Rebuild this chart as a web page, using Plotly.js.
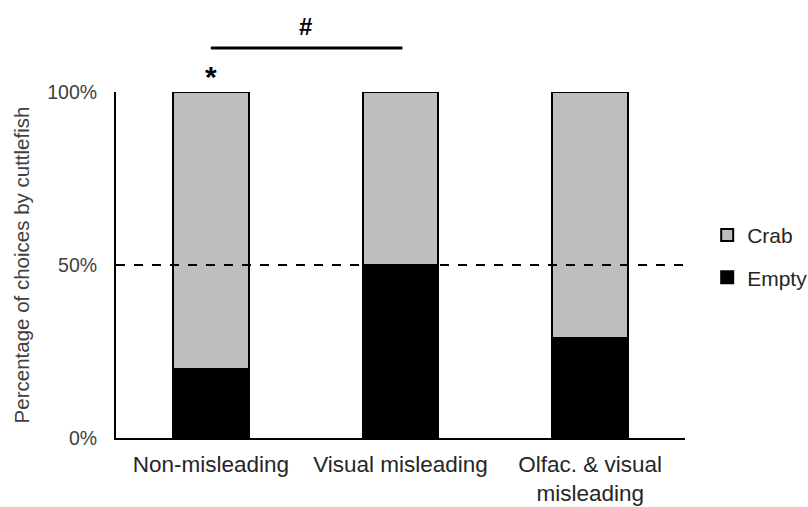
<!DOCTYPE html>
<html>
<head>
<meta charset="utf-8">
<script src="https://cdn.plot.ly/plotly-3.0.1.min.js"></script>
<style>html,body{margin:0;padding:0;background:#fff;}#chart{width:808px;height:507px;}</style>
</head>
<body>
<div id="chart"></div>
<script>
const categories = ["Non-misleading", "Visual misleading", "Olfac. & visual<br>misleading"];
const emptyPct = [20, 50, 29];
const crabPct = [80, 50, 71];
const yTicks = [0, 50, 100];
const yTickLabels = ["0%", "50%", "100%"];

const font = "Liberation Sans, Arial, sans-serif";

const data = [
  {type: "bar", name: "Empty", legendgroup: "e", legendrank: 2, x: categories, y: emptyPct, width: 0.4,
   marker: {color: "#000000", line: {color: "#000000", width: 2}}},
  {type: "bar", name: "Crab", legendgroup: "c", legendrank: 1, x: categories, y: crabPct, width: 0.4,
   marker: {color: "#bebebe", line: {color: "#000000", width: 2}}}
];

const layout = {
  width: 808, height: 507,
  margin: {l: 116, r: 123, t: 92, b: 69, autoexpand: false},
  barmode: "stack",
  paper_bgcolor: "#fff", plot_bgcolor: "#fff",
  font: {family: font, color: "#262626"},
  showlegend: true,
  legend: {x: 1.039, y: 0.525, xanchor: "left", yanchor: "middle", traceorder: "grouped",
           font: {size: 21, color: "#262626"}, itemwidth: 30, tracegroupgap: 12},
  xaxis: {range: [-0.5, 2.5], showline: true, linecolor: "#000", linewidth: 2,
          ticks: "", tickfont: {size: 22.5, color: "#262626"}, ticklabelstandoff: 5,
          showgrid: false, zeroline: false, fixedrange: true, automargin: false},
  yaxis: {range: [0, 100], tickvals: yTicks, ticktext: yTickLabels, showline: true,
          linecolor: "#000", linewidth: 2, ticks: "", showgrid: false, zeroline: false, automargin: false,
          tickfont: {size: 19.5, color: "#404040"}, ticklabelstandoff: 13,
          title: {text: "Percentage of choices by cuttlefish", font: {size: 20.5, color: "#404040"}, standoff: 12}},
  shapes: [
    {type: "line", xref: "paper", yref: "y", x0: 0, x1: 1, y0: 50, y1: 50,
     line: {color: "#000", width: 2, dash: "dash"}},
    {type: "line", xref: "x", yref: "paper", x0: 0, x1: 1.01, y0: 1.127, y1: 1.127,
     line: {color: "#000", width: 3}}
  ],
  annotations: [
    {text: "<b>*</b>", xref: "x", yref: "paper", x: 0, y: 1.045, showarrow: false,
     font: {size: 30, color: "#000"}, yanchor: "middle"},
    {text: "<b>#</b>", xref: "x", yref: "paper", x: 0.5, y: 1.19, showarrow: false,
     font: {size: 24, color: "#000"}, yanchor: "middle"}
  ]
};

Plotly.newPlot("chart", data, layout, {displayModeBar: false, staticPlot: true});
</script>
</body>
</html>
